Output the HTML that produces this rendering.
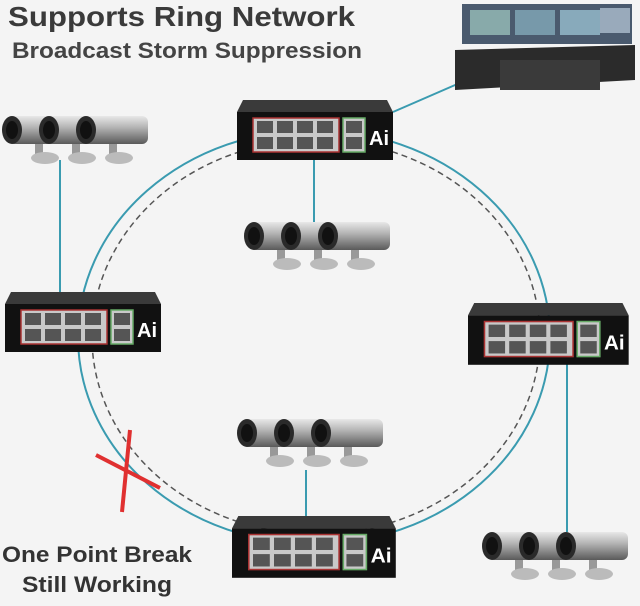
<!DOCTYPE html>
<html><head><meta charset="utf-8"><style>
body{margin:0;width:640px;height:601px;overflow:hidden;background:#f4f4f4;font-family:"Liberation Sans",sans-serif}
</style></head><body>
<svg width="640" height="601" viewBox="0 0 640 601" xmlns="http://www.w3.org/2000/svg">
<defs>
<linearGradient id="cyl" x1="0" y1="0" x2="0" y2="1">
<stop offset="0" stop-color="#e8e8e8"/><stop offset="0.4" stop-color="#b5b5b5"/><stop offset="1" stop-color="#5a5a5a"/></linearGradient>
<g id="sw">
<polygon points="6,0 150,0 156,12 0,12" fill="#3a3a3a"/>
<rect x="0" y="12" width="156" height="48" fill="#111"/>
<rect x="16" y="18" width="86" height="34" fill="#c9c9c9" stroke="#a33" stroke-width="1.5"/>
<g fill="#555">
<rect x="20" y="21" width="16" height="12"/><rect x="40" y="21" width="16" height="12"/><rect x="60" y="21" width="16" height="12"/><rect x="80" y="21" width="16" height="12"/>
<rect x="20" y="37" width="16" height="12"/><rect x="40" y="37" width="16" height="12"/><rect x="60" y="37" width="16" height="12"/><rect x="80" y="37" width="16" height="12"/>
</g>
<rect x="106" y="18" width="22" height="34" fill="#c9c9c9" stroke="#6a6" stroke-width="1.5"/>
<rect x="109" y="21" width="16" height="12" fill="#555"/><rect x="109" y="37" width="16" height="12" fill="#555"/>
<text x="132" y="45" fill="#fff" font-size="20" font-weight="bold" font-family="Liberation Sans,sans-serif">Ai</text>
</g>
<g id="cam1">
<rect x="8" y="6" width="66" height="28" rx="6" fill="url(#cyl)"/>
<ellipse cx="12" cy="20" rx="10" ry="14" fill="#2a2a2a"/>
<ellipse cx="12" cy="20" rx="6" ry="9" fill="#111"/>
<rect x="35" y="34" width="8" height="12" fill="#999"/>
<ellipse cx="45" cy="48" rx="14" ry="6" fill="#bbb"/>
</g>
<g id="cams"><use href="#cam1"/><use href="#cam1" x="37"/><use href="#cam1" x="74"/></g>
</defs>

<ellipse cx="314" cy="337" rx="236" ry="207" fill="none" stroke="#3a9bb0" stroke-width="2"/>
<ellipse cx="316" cy="337" rx="224" ry="197" fill="none" stroke="#555" stroke-width="1.5" stroke-dasharray="6,4"/>
<line x1="60" y1="160" x2="60" y2="298" stroke="#3a9bb0" stroke-width="2"/>
<line x1="314" y1="160" x2="314" y2="222" stroke="#3a9bb0" stroke-width="2"/>
<line x1="306" y1="470" x2="306" y2="520" stroke="#3a9bb0" stroke-width="2"/>
<line x1="567" y1="362" x2="567" y2="533" stroke="#3a9bb0" stroke-width="2"/>
<line x1="393" y1="112" x2="462" y2="82" stroke="#3a9bb0" stroke-width="2"/>

<line x1="96" y1="455" x2="160" y2="488" stroke="#e03030" stroke-width="4"/>
<line x1="130" y1="430" x2="122" y2="512" stroke="#e03030" stroke-width="4"/>

<use href="#sw" x="237" y="100"/>
<use href="#sw" x="5" y="292"/>
<use href="#sw" transform="translate(468,303) scale(1.03)"/>
<use href="#sw" transform="translate(232,516) scale(1.05,1.03)"/>

<use href="#cams" x="0" y="110"/>
<use href="#cams" x="242" y="216"/>
<use href="#cams" x="235" y="413"/>
<use href="#cams" x="480" y="526"/>

<rect x="462" y="4" width="170" height="40" fill="#4a5a6e"/>
<rect x="470" y="10" width="40" height="25" fill="#8aa"/><rect x="515" y="10" width="40" height="25" fill="#79a"/><rect x="560" y="10" width="40" height="25" fill="#8ab"/><rect x="600" y="8" width="30" height="25" fill="#9ab"/>
<polygon points="455,50 635,45 635,80 455,90" fill="#2b2b2b"/>
<rect x="500" y="60" width="100" height="30" fill="#3a3a3a"/>

<text x="8" y="26" font-size="28" font-weight="bold" fill="#3a3a3a" textLength="347" lengthAdjust="spacingAndGlyphs">Supports Ring Network</text>
<text x="12" y="58" font-size="22" font-weight="bold" fill="#444" textLength="350" lengthAdjust="spacingAndGlyphs">Broadcast Storm Suppression</text>
<text x="2" y="562" font-size="22" font-weight="bold" fill="#333" textLength="190" lengthAdjust="spacingAndGlyphs">One Point Break</text>
<text x="22" y="592" font-size="22" font-weight="bold" fill="#333" textLength="150" lengthAdjust="spacingAndGlyphs">Still Working</text>
</svg>
</body></html>
